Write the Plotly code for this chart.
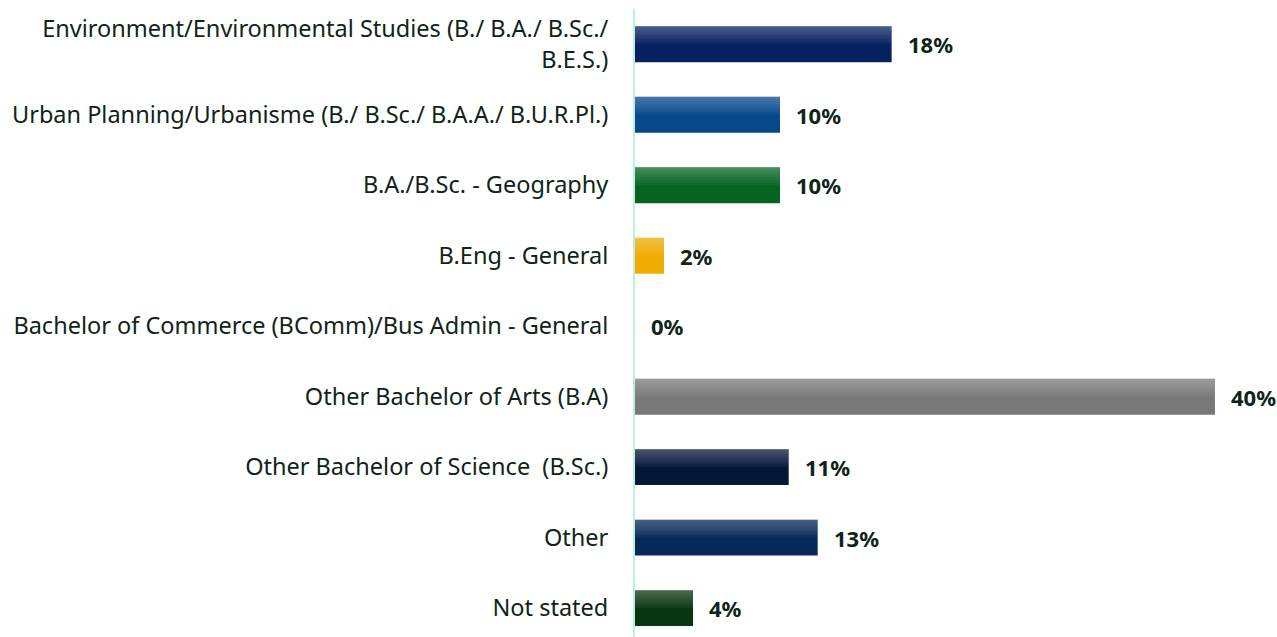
import plotly.graph_objects as go

categories = [
    "Environment/Environmental Studies (B./ B.A./ B.Sc./<br>B.E.S.)",
    "Urban Planning/Urbanisme (B./ B.Sc./ B.A.A./ B.U.R.Pl.)",
    "B.A./B.Sc. - Geography",
    "B.Eng - General",
    "Bachelor of Commerce (BComm)/Bus Admin - General",
    "Other Bachelor of Arts (B.A)",
    "Other Bachelor of Science  (B.Sc.)",
    "Other",
    "Not stated",
]
values = [17.7, 10.0, 10.0, 2.0, 0.0, 40.0, 10.6, 12.6, 4.0]
labels = ["18%", "10%", "10%", "2%", "0%", "40%", "11%", "13%", "4%"]
colors = ["#062060", "#05488c", "#046420", "#f0ac00", "#ffffff",
          "#787878", "#061638", "#06295a", "#083610"]

text_color = "#0f2418"
bar_w = 0.51

fig = go.Figure()
fig.add_trace(go.Bar(
    y=categories,
    x=values,
    orientation="h",
    marker=dict(color=colors, line=dict(width=0)),
    width=bar_w,
    hoverinfo="skip",
))

# fake the top-light gradient: nested translucent white bands from the top edge
n_bands = 7
band = bar_w / 14
for k in range(1, n_bands + 1):
    fig.add_trace(go.Bar(
        y=categories,
        x=values,
        orientation="h",
        marker=dict(color="rgba(255,255,255,0.045)", line=dict(width=0)),
        width=k * band,
        offset=-bar_w / 2,
        hoverinfo="skip",
    ))

# value labels just right of each bar
for cat, v, lab in zip(categories, values, labels):
    fig.add_annotation(
        x=v, y=cat, text=f"<b>{lab}</b>", showarrow=False,
        xanchor="left", xshift=14,
        font=dict(size=22, color=text_color, family="Noto Sans, sans-serif"),
    )

fig.update_layout(
    width=1277,
    height=637,
    margin=dict(l=635, r=0, t=9, b=0),
    barmode="overlay",
    plot_bgcolor="white",
    paper_bgcolor="white",
    showlegend=False,
    font=dict(family="Noto Sans, sans-serif", size=23.5, color=text_color),
)
fig.update_xaxes(range=[0, 44.28], visible=False, showgrid=False)
fig.update_yaxes(
    autorange=False,
    range=[8.41, -0.5],
    showgrid=False,
    showline=True,
    linecolor="#b8f2dc",
    linewidth=2,
    ticks="",
    ticklabelstandoff=20,
    tickfont=dict(size=23.5, color=text_color),
)

# page body margin would push the figure 8px in
fig.write_html("out.html", config={"displayModeBar": False},
               post_script="document.body.style.margin='0';")
